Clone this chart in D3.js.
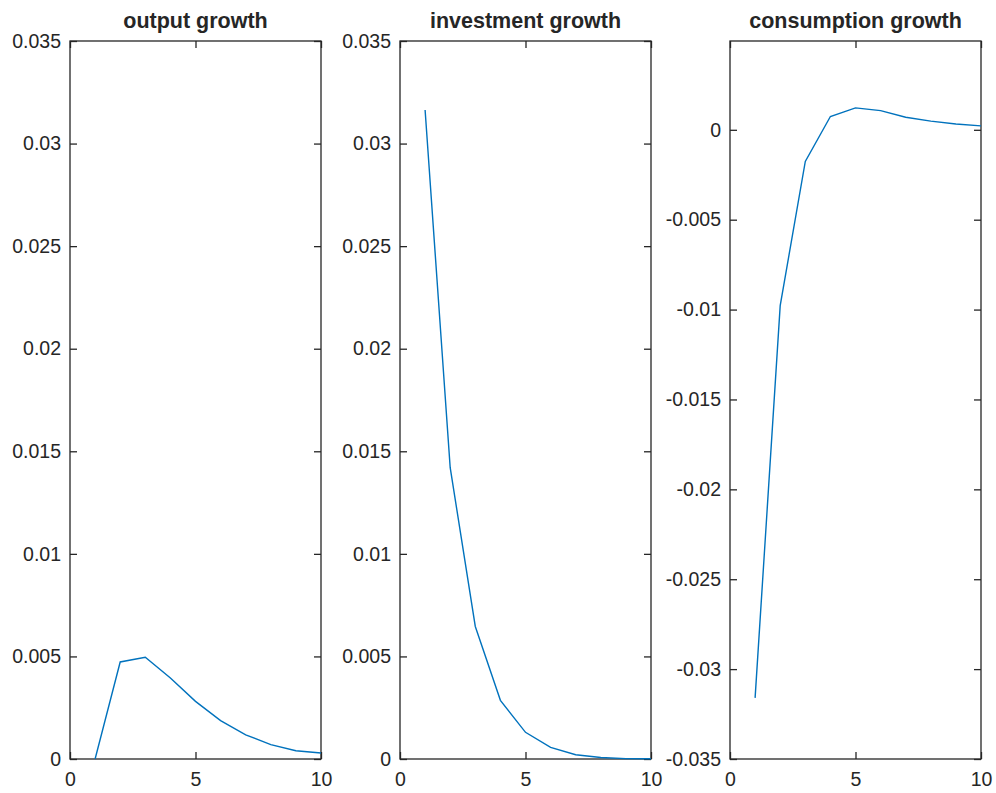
<!DOCTYPE html>
<html>
<head>
<meta charset="utf-8">
<script src="https://cdn.jsdelivr.net/npm/d3@7"></script>
<style>
  body { margin: 0; background: #fff; }
  text { font-family: "Liberation Sans", Arial, sans-serif; fill: #262626; }
</style>
</head>
<body>
<div id="chart"></div>
<script>
// periods 1..10
let periods = [1, 2, 3, 4, 5, 6, 7, 8, 9, 10];

let outputGrowth = [0, 0.00473, 0.00496, 0.00395, 0.00281, 0.00187, 0.00118, 0.00070, 0.00040, 0.00029];
let investmentGrowth = [0.03164, 0.0142, 0.00646, 0.00286, 0.00130, 0.00057, 0.00021, 0.00007, 0.00002, 0.00001];
let consumptionGrowth = [-0.0316, -0.00978, -0.00176, 0.00074, 0.00122, 0.00107, 0.00070, 0.00048, 0.00032, 0.00022];

let titles = ["output growth", "investment growth", "consumption growth"];

let xTicks = [0, 5, 10];
let yTicksPos = [0, 0.005, 0.01, 0.015, 0.02, 0.025, 0.03, 0.035];
let yTicksNeg = [-0.035, -0.03, -0.025, -0.02, -0.015, -0.01, -0.005, 0];

let options = {
  width: 996,
  height: 793,
  top: 41,
  bottom: 759,
  panelLefts: [70, 400, 730],
  panelWidth: 251,
  color: "#0072BD",
  axisColor: "#262626"
};

let panels = [
  { title: titles[0], values: outputGrowth, domain: [0, 0.035], ticks: yTicksPos },
  { title: titles[1], values: investmentGrowth, domain: [0, 0.035], ticks: yTicksPos },
  { title: titles[2], values: consumptionGrowth, domain: [-0.035, 0.00494], ticks: yTicksNeg }
];

let fmt = d => String(+d.toFixed(3));

let svg = d3.select("#chart")
  .append("svg")
  .attr("width", options.width)
  .attr("height", options.height);

panels.forEach((p, i) => {
  let left = options.panelLefts[i];
  let right = left + options.panelWidth;

  let xScale = d3.scaleLinear().domain([0, 10]).range([left, right]);
  let yScale = d3.scaleLinear().domain(p.domain).range([options.bottom, options.top]);

  let g = svg.append("g");

  // box
  g.append("rect")
   .attr("x", left)
   .attr("y", options.top)
   .attr("width", options.panelWidth)
   .attr("height", options.bottom - options.top)
   .attr("fill", "none")
   .attr("stroke", options.axisColor)
   .attr("stroke-width", 1.3);

  let styleAxis = sel => {
    sel.select(".domain").remove();
    sel.selectAll("line").attr("stroke", options.axisColor).attr("stroke-width", 1.3);
    sel.selectAll("text").attr("font-size", "19.5px").attr("fill", options.axisColor);
  };

  g.append("g")
   .attr("transform", `translate(${left},0)`)
   .call(d3.axisLeft(yScale).tickValues(p.ticks).tickFormat(fmt).tickSizeInner(-7).tickSizeOuter(0).tickPadding(9))
   .call(styleAxis);

  g.append("g")
   .attr("transform", `translate(${right},0)`)
   .call(d3.axisRight(yScale).tickValues(p.ticks).tickFormat("").tickSizeInner(-7).tickSizeOuter(0))
   .call(styleAxis);

  g.append("g")
   .attr("transform", `translate(0,${options.bottom})`)
   .call(d3.axisBottom(xScale).tickValues(xTicks).tickFormat(d3.format("d")).tickSizeInner(-7).tickSizeOuter(0).tickPadding(13))
   .call(styleAxis);

  g.append("g")
   .attr("transform", `translate(0,${options.top})`)
   .call(d3.axisTop(xScale).tickValues(xTicks).tickFormat("").tickSizeInner(-7).tickSizeOuter(0))
   .call(styleAxis);

  let line = d3.line()
    .x((d, j) => xScale(periods[j]))
    .y(d => yScale(d));

  g.append("path")
   .datum(p.values)
   .attr("d", line)
   .attr("fill", "none")
   .attr("stroke", options.color)
   .attr("stroke-width", 1.4);

  g.append("text")
   .text(p.title)
   .attr("x", (left + right) / 2)
   .attr("y", 28)
   .attr("text-anchor", "middle")
   .attr("font-weight", "bold")
   .attr("font-size", "21.5px")
   .attr("fill", "#000");
});
</script>
</body>
</html>
